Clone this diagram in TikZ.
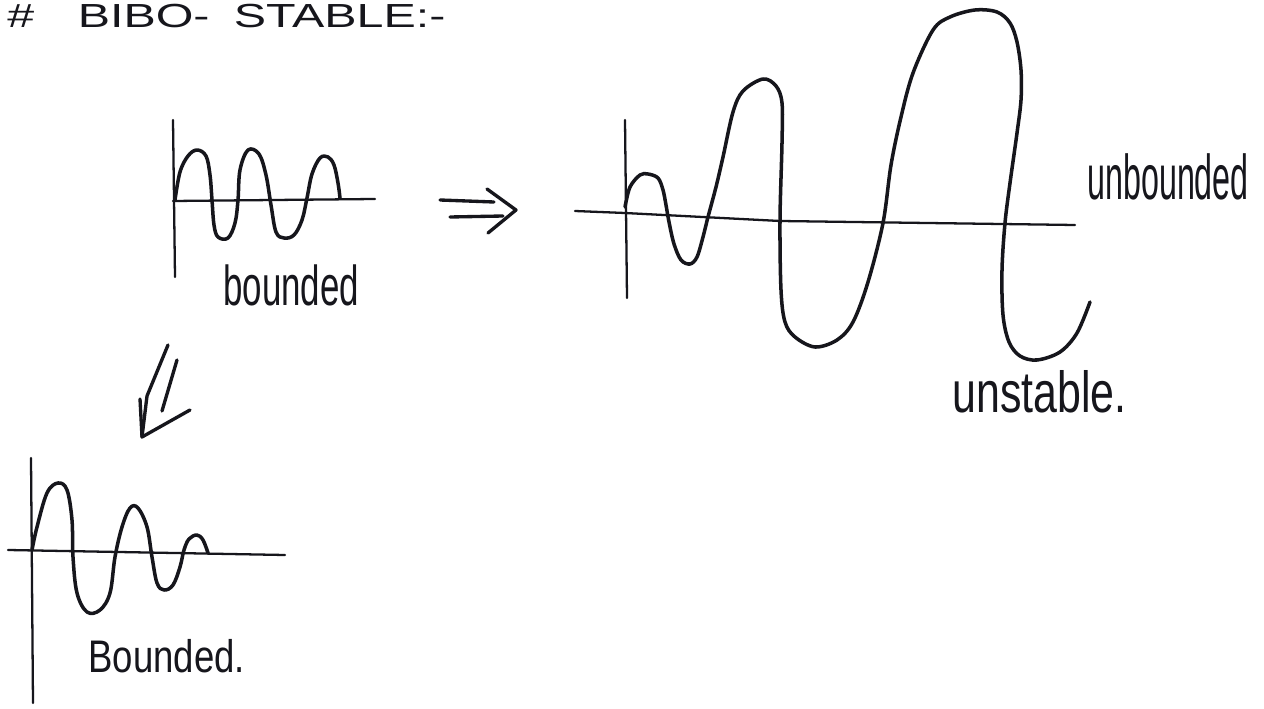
\documentclass[tikz,border=0pt]{standalone}
\usepackage{fontspec}
\usepackage{graphicx}
\newfontfamily\handfont{Liberation Sans}
\definecolor{ink}{RGB}{22,22,28}
\tikzset{
  axisline/.style={draw=ink, line width=1.3pt, line cap=round},
  signal/.style={draw=ink, line width=2pt, line cap=round, line join=round},
  pen/.style={draw=ink, line width=1.9pt, line cap=round, line join=round},
  hand/.style={inner sep=0pt, text=ink, font=\handfont, anchor=base west},
}
\begin{document}
\begin{tikzpicture}[x=0.02cm, y=-0.02cm]
\useasboundingbox[fill=white] (0,0) rectangle (1264,709);

% ---------- title ----------
\node[hand] (title) at (7,28) {\fontsize{19}{23}\selectfont\scalebox{1.45}[1]{\#\hspace{0.9em}BIBO-\hspace{0.5em}STABLE:-}};

% ---------- graph 1 : bounded input ----------
\coordinate (g1top) at (173,120);
\coordinate (g1bot) at (175,277);
\coordinate (g1left) at (173,201);
\coordinate (g1right) at (375,199);
\draw[axisline] (g1top) -- (g1bot);
\draw[axisline] (g1left) -- (g1right);
\draw[signal] plot[smooth, tension=0.6] coordinates {
 (175,200) (180,172) (188,156) (197,150) (206,156) (210,175) (212,200)
 (214,225) (218,237) (228,238) (235,223) (238,200) (240,170) (248,150)
 (259,154) (266,175) (271,205) (276,232) (284,238) (294,235) (302,220)
 (307,198) (312,174) (320,158) (328,157) (334,165) (338,183) (340,198)};
\node[hand] (lbl1) at (223,306) {\fontsize{32}{36}\selectfont\scalebox{0.62}[1]{bounded}};

% ---------- implies arrow ----------
\coordinate (r1a) at (440,200);
\coordinate (r1b) at (494,202);
\coordinate (r2a) at (450,217);
\coordinate (r2b) at (503,216);
\coordinate (rh1) at (487,189);
\coordinate (rtip) at (516,210);
\coordinate (rh2) at (488,233);
\draw[pen] (r1a) -- (r1b);
\draw[pen] (r2a) -- (r2b);
\draw[pen] (rh1) -- (rtip) -- (rh2);

% ---------- graph 2 : unbounded output ----------
\coordinate (g2top) at (625,120);
\coordinate (g2bot) at (627,298);
\draw[axisline] (g2top) -- (g2bot);
\draw[axisline] (575,211) -- (625,213) -- (780,221) -- (1075,225);
\draw[signal] plot[smooth, tension=0.55] coordinates {
 (625,207) (630,187) (640,175) (648,174) (658,178) (663,190) (666,205)
 (669,222) (674,244) (681,260) (690,264) (697,257) (703,237) (708,217)
 (716,187) (723,157) (733,112) (743,91) (763,79) (776,86) (782,103)
 (782,143) (780,220) (781,290) (785,322) (795,337) (815,347) (837,340)
 (853,322) (868,282) (883,223) (891,165) (901,117) (913,73) (933,30)
 (950,17) (975,10) (997,12) (1010,23) (1017,42) (1021,70) (1021,100)
 (1017,133) (1010,183) (1005,223) (1002,270) (1003,315) (1009,342)
 (1020,356) (1037,360) (1060,352) (1077,333) (1090,302)};
\node[hand] (lbl2) at (1087,200) {\fontsize{36}{40}\selectfont\scalebox{0.51}[1]{unbounded}};
\node[hand] (lbl3) at (952,412) {\fontsize{33}{38}\selectfont\scalebox{0.74}[1]{unstable.}};

% ---------- down-left arrow ----------
\coordinate (d1a) at (168,345);
\coordinate (d1b) at (147,396);
\coordinate (dtip) at (142,437);
\coordinate (dh1) at (140,399);
\coordinate (dh2) at (190,410);
\coordinate (d2a) at (177,360);
\coordinate (d2b) at (162,411);
\draw[pen] (d1a) -- (d1b) -- (dtip);
\draw[pen] (dh1) -- (dtip) -- (dh2);
\draw[pen] (d2a) -- (d2b);

% ---------- graph 3 : bounded (stable) output ----------
\coordinate (g3top) at (31,458);
\coordinate (g3bot) at (33,703);
\coordinate (g3left) at (8,550);
\coordinate (g3right) at (285,555);
\draw[axisline] (g3top) -- (g3bot);
\draw[axisline] (g3left) -- (g3right);
\draw[signal] plot[smooth, tension=0.6] coordinates {
 (32,550) (37,527) (47,493) (58,483) (67,490) (72,520) (73,557)
 (77,593) (87,612) (100,610) (110,593) (115,557) (122,527) (130,508)
 (138,508) (147,527) (152,557) (157,583) (164,590) (173,585) (180,567)
 (184,550) (189,539) (197,535) (203,540) (208,553)};
\node[hand] (lbl4) at (88,672) {\fontsize{26}{30}\selectfont\scalebox{0.8}[1]{Bounded.}};
\end{tikzpicture}
\end{document}
